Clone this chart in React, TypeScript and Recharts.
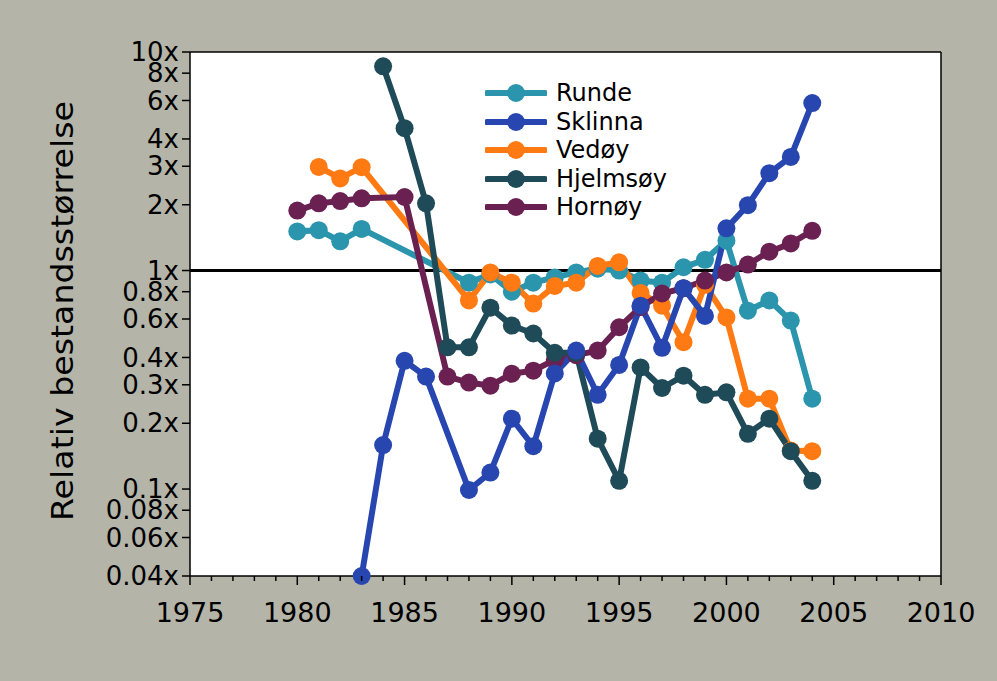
import { CartesianGrid, Legend, Line, LineChart, ReferenceLine, XAxis, YAxis } from 'recharts';

const years = [
  1980, 1981, 1982, 1983, 1984, 1985, 1986, 1987, 1988, 1989, 1990, 1991, 1992,
  1993, 1994, 1995, 1996, 1997, 1998, 1999, 2000, 2001, 2002, 2003, 2004,
];

const runde = [
  1.51, 1.53, 1.36, 1.55, null, null, null, null, 0.88, 0.96, 0.8, 0.88, 0.93,
  0.98, 1.02, 1.0, 0.9, 0.88, 1.035, 1.12, 1.37, 0.655, 0.73, 0.59, 0.259,
];
const sklinna = [
  null, null, null, 0.04, 0.159, 0.386, 0.327, null, 0.099, 0.119, 0.21, 0.157, 0.338,
  0.43, 0.27, 0.37, 0.69, 0.443, 0.83, 0.62, 1.56, 1.99, 2.79, 3.31, 5.84,
];
const vedoy = [
  null, 2.98, 2.64, 2.97, null, null, null, null, 0.73, 0.98, 0.88, 0.706, 0.85,
  0.88, 1.05, 1.09, 0.79, 0.69, 0.47, 0.86, 0.61, 0.259, 0.259, 0.15, 0.149,
];
const hjelmsoy = [
  null, null, null, null, 8.6, 4.48, 2.03, 0.445, 0.445, 0.676, 0.56, 0.515, 0.42,
  0.42, 0.17, 0.109, 0.36, 0.29, 0.33, 0.27, 0.277, 0.179, 0.21, 0.149, 0.109,
];
const hornoy = [
  1.88, 2.03, 2.08, 2.14, null, 2.17, null, 0.327, 0.307, 0.297, 0.337, 0.348, 0.39,
  0.41, 0.43, 0.55, 0.68, 0.785, 0.83, 0.9, 0.98, 1.065, 1.22, 1.33, 1.52,
];

const yTicks = [0.04, 0.06, 0.08, 0.1, 0.2, 0.3, 0.4, 0.6, 0.8, 1, 2, 3, 4, 6, 8, 10];
const xTicks = Array.from({ length: 36 }, (_, i) => 1975 + i);

const series = [
  { key: 'runde', name: 'Runde', color: '#2a95ad', values: runde },
  { key: 'sklinna', name: 'Sklinna', color: '#2846b0', values: sklinna },
  { key: 'vedoy', name: 'Vedøy', color: '#ff7a12', values: vedoy },
  { key: 'hjelmsoy', name: 'Hjelmsøy', color: '#1f4a58', values: hjelmsoy },
  { key: 'hornoy', name: 'Hornøy', color: '#6a2152', values: hornoy },
];

// later series sit on top
const drawOrder = ['runde', 'vedoy', 'hornoy', 'hjelmsoy', 'sklinna'];

const data = years.map((year, i) => {
  const row: Record<string, number | null> = { year };
  series.forEach((s) => {
    row[s.key] = s.values[i];
  });
  return row;
});

const FONT = '"DejaVu Sans", Verdana, sans-serif';

function YearTick({ x, y, payload }: any) {
  const major = payload.value % 5 === 0;
  return (
    <g>
      <line x1={x} x2={x} y1={y} y2={y + (major ? 9 : 5)} stroke="#000" strokeWidth={1.5} />
      {major && (
        <text x={x} y={y + 46} textAnchor="middle" fontSize={27} fontFamily={FONT} fill="#000">
          {payload.value}
        </text>
      )}
    </g>
  );
}

function SeriesLegend() {
  return (
    <div style={{ fontFamily: FONT, fontSize: 24, color: '#000' }}>
      {series.map((s) => (
        <div key={s.key} style={{ display: 'flex', alignItems: 'center', height: 28.5 }}>
          <svg width={62} height={22}>
            <line x1={2} x2={60} y1={11} y2={11} stroke={s.color} strokeWidth={6} strokeLinecap="round" />
            <circle cx={31} cy={11} r={9} fill={s.color} />
          </svg>
          <span style={{ marginLeft: 9 }}>{s.name}</span>
        </div>
      ))}
    </div>
  );
}

export default function App() {
  return (
    <div style={{ position: 'absolute', left: 0, top: 0, width: 997, height: 681, background: '#b5b4a8' }}>
      <LineChart width={997} height={681} data={data} margin={{ top: 51, right: 56, bottom: 104, left: 189 }}>
        <CartesianGrid fill="#fff" horizontal={false} vertical={false} />
        <XAxis
          dataKey="year"
          type="number"
          domain={[1975, 2010]}
          ticks={xTicks}
          interval={0}
          height={1}
          tickSize={0}
          tickMargin={0}
          tickLine={false}
          tick={<YearTick />}
          axisLine={{ stroke: '#000', strokeWidth: 1.5 }}
        />
        <XAxis
          xAxisId="top"
          orientation="top"
          type="number"
          domain={[1975, 2010]}
          height={1}
          tick={false}
          axisLine={{ stroke: '#000', strokeWidth: 1.5 }}
        />
        <YAxis
          type="number"
          scale="log"
          domain={[0.04, 10]}
          ticks={yTicks}
          interval={0}
          width={1}
          tickSize={8}
          tickMargin={3}
          tickFormatter={(v: number) => `${v}x`}
          tick={{ fontSize: 26, fontFamily: FONT, fill: '#000' }}
          tickLine={{ stroke: '#000', strokeWidth: 1.5 }}
          axisLine={{ stroke: '#000', strokeWidth: 1.5 }}
          label={{
            content: () => (
              <text
                x={62}
                y={311}
                transform="rotate(-90 62 311)"
                textAnchor="middle"
                dominantBaseline="central"
                fontSize={30}
                textLength={420}
                lengthAdjust="spacingAndGlyphs"
                fontFamily={FONT}
                fill="#000"
              >
                Relativ bestandsstørrelse
              </text>
            ),
          }}
        />
        <YAxis
          yAxisId="right"
          orientation="right"
          type="number"
          scale="log"
          domain={[0.04, 10]}
          ticks={yTicks}
          interval={0}
          width={1}
          mirror
          tickSize={8}
          tick={() => <g />}
          tickLine={{ stroke: '#000', strokeWidth: 1.5 }}
          axisLine={{ stroke: '#000', strokeWidth: 1.5 }}
        />
        <ReferenceLine y={1} stroke="#000" strokeWidth={3} />
        <Legend
          layout="vertical"
          align="center"
          verticalAlign="middle"
          content={() => <SeriesLegend />}
          wrapperStyle={{ left: 485, top: 79, width: 220 }}
        />
        {drawOrder.map((key) => {
          const s = series.find((d) => d.key === key)!;
          return (
            <Line
              key={s.key}
              dataKey={s.key}
              name={s.name}
              stroke={s.color}
              strokeWidth={6}
              connectNulls
              dot={{ r: 9, fill: s.color, stroke: 'none' }}
              activeDot={false}
              isAnimationActive={false}
            />
          );
        })}
      </LineChart>
    </div>
  );
}
